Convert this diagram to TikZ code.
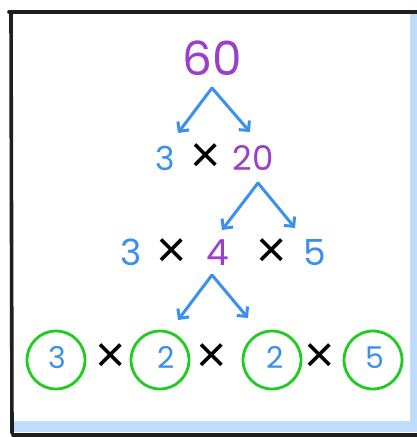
\documentclass[tikz,border=0pt]{standalone}
\usepackage{fontspec}
\setmainfont{Poppins}
\newfontfamily\mulfont{Liberation Sans}
\usetikzlibrary{arrows.meta}
\definecolor{nblue}{HTML}{3A90EC}
\definecolor{npurple}{HTML}{9B3FCB}
\definecolor{ngreen}{HTML}{1FCC1F}
\definecolor{frameblue}{HTML}{BFDDFA}
\definecolor{framedark}{HTML}{1E1E1E}
\tikzset{
  blu/.style={text=nblue, inner sep=0pt, anchor=base},
  pur/.style={text=npurple, inner sep=0pt, anchor=base},
  tms/.style={text=black, inner sep=0pt, anchor=center, font=\mulfont\fontsize{52}{52}\selectfont},
  arr/.style={draw=nblue, line width=3pt, line cap=round, line join=round, -{Straight Barb[length=7pt,width=14pt,line width=3pt]}},
  ring/.style={draw=ngreen, line width=2.8pt, circle, minimum size=58pt, inner sep=0pt},
  fr/.style={draw=framedark, line width=3.6pt, line cap=round},
}
\begin{document}
\begin{tikzpicture}[x=1pt,y=-1pt]
\useasboundingbox[fill=white] (0,0) rectangle (417,437);
% frame
\fill[frameblue] (410,14) rectangle (417,432);
\fill[frameblue] (13,421) rectangle (417,432);
\draw[fr] (9,12) -- (417,12);
\draw[fr] (11,12) -- (12,433);
\draw[fr] (13,435) -- (417,435);
% row 1
\node[pur, font=\fontsize{47}{47}\selectfont] (n60) at (212,75) {60};
% row 2
\node[blu, font=\fontsize{33}{33}\selectfont] (r2a) at (165,170) {3};
\node[tms] (r2x) at (206,158) {×};
\node[pur, font=\fontsize{34}{34}\selectfont] (r2b) at (253,170) {20};
% row 3
\node[blu, font=\fontsize{36}{36}\selectfont] (r3a) at (131,265) {3};
\node[tms] (r3x1) at (172,253) {×};
\node[pur, font=\fontsize{36}{36}\selectfont] (r3b) at (218,265) {4};
\node[tms] (r3x2) at (272,253) {×};
\node[blu, font=\fontsize{36}{36}\selectfont] (r3c) at (315,265) {5};
% row 4
\node[ring] (c1) at (56,360) {};
\node[ring] (c2) at (160,360) {};
\node[ring] (c3) at (272,360) {};
\node[ring] (c4) at (373,360) {};
\node[blu, font=\fontsize{30}{30}\selectfont] (d1) at (57,368) {3};
\node[blu, font=\fontsize{30}{30}\selectfont] (d2) at (166,368) {2};
\node[blu, font=\fontsize{30}{30}\selectfont] (d3) at (275,368) {2};
\node[blu, font=\fontsize{30}{30}\selectfont] (d4) at (375,368) {5};
\node[tms] (x1) at (111,358) {×};
\node[tms] (x2) at (212,358) {×};
\node[tms] (x3) at (320,358) {×};
% arrows
\coordinate (a1) at (212,88);
\coordinate (a1l) at (178,133);
\coordinate (a1r) at (250,132);
\coordinate (a2) at (258,183);
\coordinate (a2l) at (222,230);
\coordinate (a2r) at (295,228);
\coordinate (a3) at (212,275);
\coordinate (a3l) at (178,320);
\coordinate (a3r) at (248,318);
\draw[arr] (a1) -- (a1l);
\draw[arr] (a1) -- (a1r);
\draw[arr] (a2) -- (a2l);
\draw[arr] (a2) -- (a2r);
\draw[arr] (a3) -- (a3l);
\draw[arr] (a3) -- (a3r);
\end{tikzpicture}
\end{document}
